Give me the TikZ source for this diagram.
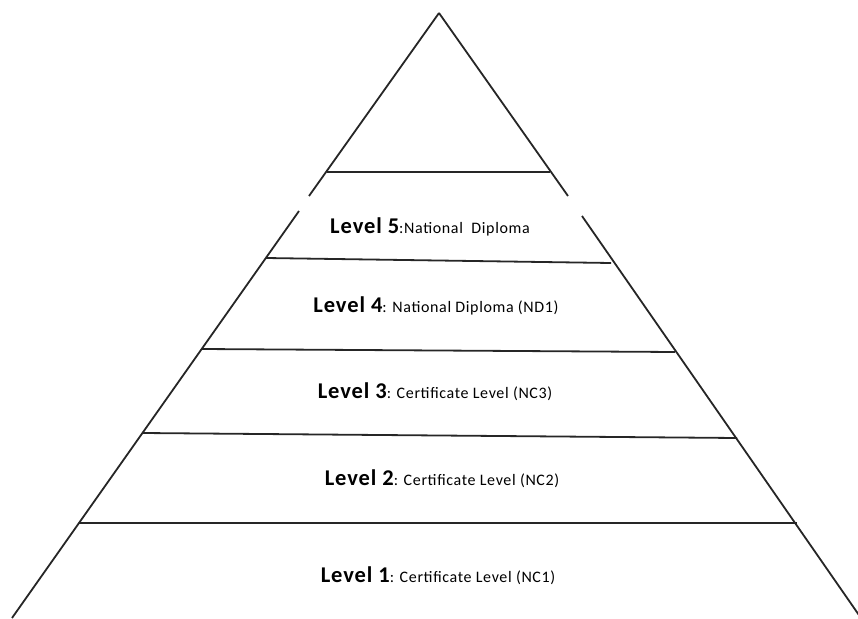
\documentclass[tikz,border=0pt]{standalone}
\usepackage{fontspec}
\setmainfont{Carlito}
\newfontfamily\tierfont[LetterSpace=4]{Carlito}
\usetikzlibrary{positioning}

\newcommand{\lvlname}[1]{{\fontsize{22.5}{26}\selectfont\bfseries Level #1}}

\begin{document}
\begin{tikzpicture}[x=1pt,y=-1pt,
    side_line/.style={line width=1.8pt,draw=black!85},
    tier_line/.style={line width=1.8pt,draw=black!85},
    tier_label/.style={anchor=base,inner sep=0pt,font=\tierfont\fontsize{16}{19}\selectfont}]

    \useasboundingbox (0,0) rectangle (858,618);

    % apex and base corners
    \coordinate (top) at (439,13);
    \coordinate (bl) at (12,618);
    \coordinate (br) at (861,618);

    % points on the sides
    \coordinate (l0) at (327,172);
    \coordinate (r0) at (550,172);
    \coordinate (l1) at (266,258);
    \coordinate (r1) at (611,263);
    \coordinate (l2) at (202,349);
    \coordinate (r2) at (675,352);
    \coordinate (l3) at (143,433);
    \coordinate (r3) at (737,438);
    \coordinate (l4) at (79,523);
    \coordinate (r4) at (797,523);

    % breaks in the sides
    \coordinate (lga) at (309,196);
    \coordinate (lgb) at (299,211);
    \coordinate (rga) at (568,196);
    \coordinate (rgb) at (582,216);

    \draw[side_line] (top) -- (lga);
    \draw[side_line] (lgb) -- (bl);
    \draw[side_line] (top) -- (rga);
    \draw[side_line] (rgb) -- (br);

    \draw[tier_line] (l0) -- (r0);
    \draw[tier_line] (l1) -- (r1);
    \draw[tier_line] (l2) -- (r2);
    \draw[tier_line] (l3) -- (r3);
    \draw[tier_line] (l4) -- (r4);

    \node[tier_label] (t5) at (430,233) {\lvlname{5}:National\ \ Diploma};
    \node[tier_label] (t4) at (436,312) {\lvlname{4}: National Diploma (ND1)};
    \node[tier_label] (t3) at (435,398) {\lvlname{3}: Certificate Level (NC3)};
    \node[tier_label] (t2) at (442,485) {\lvlname{2}: Certificate Level (NC2)};
    \node[tier_label] (t1) at (438,582) {\lvlname{1}: Certificate Level (NC1)};
\end{tikzpicture}
\end{document}
